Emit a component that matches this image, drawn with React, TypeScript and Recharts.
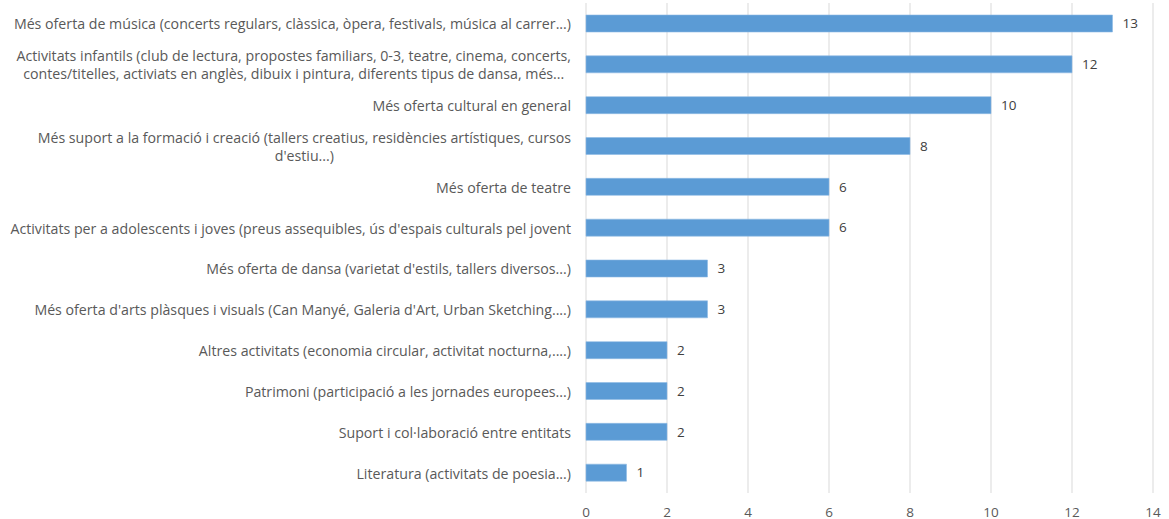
import { BarChart, Bar, XAxis, YAxis, CartesianGrid, LabelList } from "recharts";

const categories = [
  "Més oferta de música (concerts regulars, clàssica, òpera, festivals, música al carrer...)",
  "Activitats infantils (club de lectura, propostes familiars, 0-3, teatre, cinema, concerts,\ncontes/titelles, activiats en anglès, dibuix i pintura, diferents tipus de dansa, més...",
  "Més oferta cultural en general",
  "Més suport a la formació i creació (tallers creatius, residències artístiques, cursos\nd'estiu...)",
  "Més oferta de teatre",
  "Activitats per a adolescents i joves (preus assequibles, ús d'espais culturals pel jovent",
  "Més oferta de dansa (varietat d'estils, tallers diversos...)",
  "Més oferta d'arts plàsques i visuals (Can Manyé, Galeria d'Art, Urban Sketching....)",
  "Altres activitats (economia circular, activitat nocturna,....)",
  "Patrimoni (participació a les jornades europees...)",
  "Suport i col·laboració entre entitats ",
  "Literatura (activitats de poesia...)",
];
const values = [13, 12, 10, 8, 6, 6, 3, 3, 2, 2, 2, 1];
const xTicks = [0, 2, 4, 6, 8, 10, 12, 14];

const data = categories.map((name, i) => ({ name, value: values[i] }));

const FONT = "'Open Sans', sans-serif";
const CAT_SIZE = 14.2;
const NUM_SIZE = 13.5;

let ctx: CanvasRenderingContext2D | null = null;
const measure = (s: string) => {
  if (!ctx) ctx = document.createElement("canvas").getContext("2d");
  if (!ctx) return s.length * 6.3;
  ctx.font = `${CAT_SIZE}px ${FONT}`;
  return ctx.measureText(s).width;
};

const CategoryTick = (props: any) => {
  const { x, y, payload } = props;
  const lines: string[] = String(payload.value).split("\n");
  const lineH = 18;
  const right = x - 7;
  const startY = y - ((lines.length - 1) * lineH) / 2;
  const blockW = Math.max(...lines.map(measure));
  const center = right - blockW / 2;
  return (
    <text fill="#595959" fontSize={CAT_SIZE} fontFamily={FONT} dominantBaseline="central">
      {lines.map((line, i) => (
        <tspan
          key={i}
          x={lines.length > 1 ? center : right}
          y={startY + i * lineH}
          textAnchor={lines.length > 1 ? "middle" : "end"}
        >
          {line}
        </tspan>
      ))}
    </text>
  );
};

const ValueTick = (props: any) => {
  const { x, y, payload } = props;
  return (
    <text x={x} y={y + 16} textAnchor="middle" fill="#595959" fontSize={NUM_SIZE} fontFamily={FONT}>
      {payload.value}
    </text>
  );
};

export default function App() {
  return (
    <div style={{ position: "absolute", left: 0, top: 0, background: "#fff" }}>
      <BarChart
        width={1169}
        height={519}
        data={data}
        layout="vertical"
        margin={{ top: 3, right: 16, bottom: 0, left: 0 }}
      >
        <CartesianGrid horizontal={false} stroke="#d9d9d9" strokeWidth={1} />
        <XAxis
          type="number"
          domain={[0, 14]}
          ticks={xTicks}
          axisLine={false}
          tickLine={false}
          height={26}
          tick={<ValueTick />}
          interval={0}
        />
        <YAxis
          type="category"
          dataKey="name"
          width={586}
          axisLine={false}
          tickLine={false}
          tick={<CategoryTick />}
          interval={0}
        />
        <Bar dataKey="value" fill="#5b9bd5" stroke="#8fbbe4" strokeWidth={0.6} barSize={17} isAnimationActive={false}>
          <LabelList dataKey="value" position="right" offset={10} fill="#404040" fontSize={NUM_SIZE} fontFamily={FONT} />
        </Bar>
      </BarChart>
    </div>
  );
}
